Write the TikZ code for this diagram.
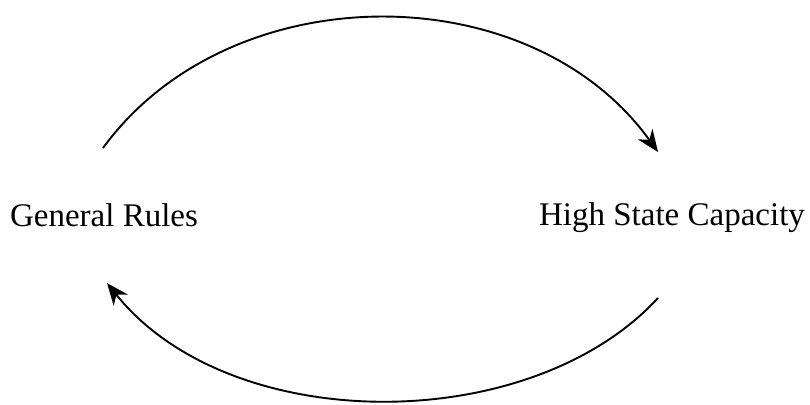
\documentclass[tikz,border=0pt]{standalone}
\usepackage{fontspec}
\setmainfont{Liberation Serif}
\usetikzlibrary{arrows.meta}
\begin{document}
\begin{tikzpicture}[x=1pt,y=1pt,
  lbl/.style={inner sep=0pt, font=\fontsize{33}{38}\selectfont},
  arc/.style={line width=1.9pt, -{Stealth[length=22pt,width=18pt,inset=7pt]}}]
\useasboundingbox (0,0) rectangle (810,404);
\node[lbl] (gr) at (104,189) {General Rules};
\node[lbl] (hsc) at (672,186) {High State Capacity};
\coordinate (t1) at (103,256);
\coordinate (t2) at (658,252);
\coordinate (b1) at (658,106);
\coordinate (b2) at (107,121);
\draw[arc] (t1) .. controls (230,430) and (530,430) .. (t2);
\draw[arc] (b1) .. controls (530,-33) and (230,-33) .. (b2);
\end{tikzpicture}
\end{document}
